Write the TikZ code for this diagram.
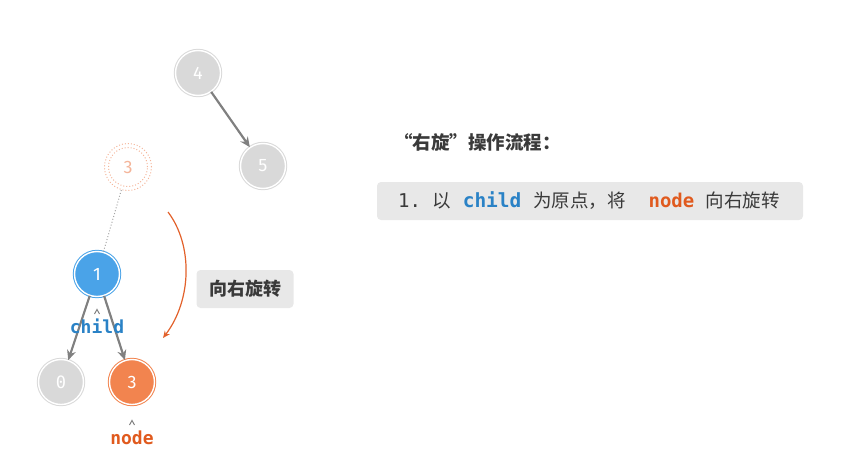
\documentclass[tikz,border=0pt]{standalone}
\usepackage{fontspec}
\setmainfont{Noto Sans CJK SC}
\newfontfamily\cjk{Noto Sans CJK SC}
\newfontfamily\monof{DejaVu Sans Mono}
\newfontfamily\numf{Fira Sans}
\usetikzlibrary{arrows.meta}
\definecolor{ngray}{HTML}{D9D9D9}
\definecolor{nblue}{HTML}{4AA3E8}
\definecolor{norange}{HTML}{F2844F}
\definecolor{lorange}{HTML}{F4B59A}
\definecolor{tblue}{HTML}{2A82C6}
\definecolor{torange}{HTML}{E05A1E}
\definecolor{arcor}{HTML}{E2612B}
\definecolor{egray}{HTML}{808080}
\definecolor{boxgray}{HTML}{E8E8E8}
\definecolor{txt}{HTML}{3A3A3A}
\tikzset{
  tnode/.style={circle, minimum size=45pt, inner sep=0pt, text=white, font=\numf\fontsize{18}{18}\selectfont, double=white, double distance=1.4pt, line width=1pt},
  graynode/.style={tnode, fill=ngray, draw=ngray},
  bluenode/.style={tnode, fill=nblue, draw=nblue},
  orangenode/.style={tnode, fill=norange, draw=norange},
  edge/.style={draw=egray, line width=2.2pt, -{Stealth[length=10pt,width=9pt]}},
  caret/.style={draw=egray, line width=1pt},
  lbl/.style={font=\monof\bfseries\fontsize{18}{18}\selectfont, inner sep=0pt}
}
\begin{document}
\begin{tikzpicture}[x=1pt,y=-1pt]
\useasboundingbox (0,0) rectangle (850,460);
\node[graynode] (n4) at (198,73) {4};
\node[graynode] (n5) at (263,166) {5};
\node[circle, minimum size=47pt, inner sep=0pt, draw=lorange, dotted, line width=1pt, text=lorange, font=\numf\fontsize{18}{18}\selectfont] (n3o) at (128,167) {3};
\draw[lorange, dotted, line width=1pt] (n3o.center) circle (19.5pt);
\node[bluenode] (n1) at (97,274) {1};
\node[graynode, font=\monof\fontsize{17}{17}\selectfont] (n0) at (61,382) {0};
\node[orangenode] (n3) at (132,382) {3};
\draw[edge] (n4) -- (n5);
\draw[edge] (n1) -- (n0);
\draw[edge] (n1) -- (n3);
\draw[egray!70, dotted, line width=1pt] (n3o) -- (n1);
\node[lbl, text=tblue] (lchild) at (97,326) {child};
\node[lbl, text=torange] (lnode) at (132,438) {node};
\draw[caret] (94.5,314) -- (97,309.5) -- (99.5,314);
\draw[caret] (129.5,425) -- (132,420.5) -- (134.5,425);
\coordinate (arcs) at (168,212);
\coordinate (arce) at (163,338);
\draw[arcor, line width=1.2pt, -{Stealth[length=7pt,width=6pt]}] (arcs) .. controls (193,245) and (192,300) .. (arce);
\node[fill=boxgray, rounded corners=4pt, minimum width=97pt, minimum height=38pt, inner sep=0pt, text=txt, font=\cjk\bfseries\fontsize{18}{18}\selectfont] (rot) at (245,289) {向右旋转};
\node[anchor=west, inner sep=0pt, text=txt, font=\cjk\bfseries\fontsize{18.5}{18.5}\selectfont] (title) at (394,142) {“右旋”操作流程：};
\node[fill=boxgray, rounded corners=4pt, minimum width=426pt, minimum height=38pt, inner sep=0pt] (step1box) at (590,201) {};
\node[anchor=west, inner sep=0pt, text=txt, font=\cjk\fontsize{18.5}{18.5}\selectfont] (step1) at (398,201) {{\monof\fontsize{19}{19}\selectfont 1.\ }以{\monof\fontsize{19.5}{19.5}\selectfont\ \textbf{\color{tblue}child}\ }为原点，将{\monof\fontsize{19}{19}\selectfont\ \ \textbf{\color{torange}node}\ }向右旋转};
\end{tikzpicture}
\end{document}
